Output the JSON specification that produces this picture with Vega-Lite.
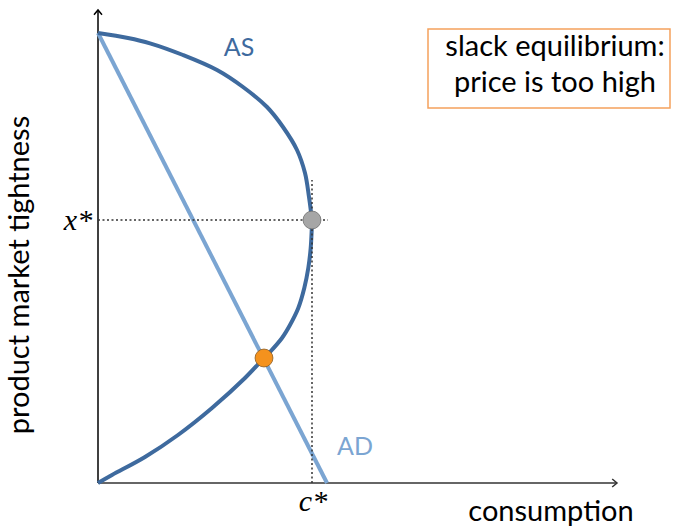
{
  "$schema": "https://vega.github.io/schema/vega-lite/v6.json",
  "width": 584,
  "height": 473,
  "autosize": {"type": "none"},
  "padding": {"left": 98, "top": 10, "right": 0, "bottom": 43},
  "background": "white",
  "config": {"view": {"stroke": null}},
  "datasets": {
    "as": [
      {"o": 1, "x": 0, "y": 450}, {"o": 2, "x": 30, "y": 445}, {"o": 3, "x": 52, "y": 439.7},
      {"o": 4, "x": 85, "y": 428}, {"o": 5, "x": 119, "y": 413}, {"o": 6, "x": 145, "y": 396},
      {"o": 7, "x": 169, "y": 376}, {"o": 8, "x": 185, "y": 356}, {"o": 9, "x": 199, "y": 333},
      {"o": 10, "x": 207, "y": 310}, {"o": 11, "x": 211, "y": 286}, {"o": 12, "x": 213, "y": 271},
      {"o": 13, "x": 214, "y": 262}, {"o": 14, "x": 213.7, "y": 253}, {"o": 15, "x": 212.7, "y": 235},
      {"o": 16, "x": 210.3, "y": 215}, {"o": 17, "x": 206.3, "y": 195}, {"o": 18, "x": 200.3, "y": 175},
      {"o": 19, "x": 192, "y": 158}, {"o": 20, "x": 184, "y": 145}, {"o": 21, "x": 172, "y": 131},
      {"o": 22, "x": 166, "y": 125}, {"o": 23, "x": 147, "y": 105}, {"o": 24, "x": 114, "y": 75},
      {"o": 25, "x": 80, "y": 48}, {"o": 26, "x": 47, "y": 26}, {"o": 27, "x": 14, "y": 8},
      {"o": 28, "x": 0, "y": 0}
    ],
    "ad": [{"o": 1, "x": 0, "y": 450}, {"o": 2, "x": 229, "y": 0}],
    "pts": [
      {"name": "slack", "x": 166, "y": 125},
      {"name": "walrasian", "x": 214, "y": 263}
    ]
  },
  "layer": [
    {
      "data": {"values": [{"x": 0, "y": 0, "y2": 473}]},
      "mark": {"type": "rule", "color": "#000000", "strokeWidth": 1.5},
      "encoding": {
        "x": {"field": "x", "type": "quantitative", "scale": {"domain": [0, 584], "nice": false, "zero": false}, "axis": null},
        "y": {"field": "y", "type": "quantitative", "scale": {"domain": [0, 473], "nice": false, "zero": false}, "axis": null},
        "y2": {"field": "y2"}
      }
    },
    {
      "data": {"values": [{"x": 0, "x2": 519, "y": 0}]},
      "mark": {"type": "rule", "color": "#333333", "strokeWidth": 1.5},
      "encoding": {
        "x": {"field": "x", "type": "quantitative"},
        "x2": {"field": "x2"},
        "y": {"field": "y", "type": "quantitative"}
      }
    },
    {
      "data": {"values": [{"x": 0, "y": 473}]},
      "mark": {"type": "point", "shape": "M-1,1.2L0,0L1,1.2", "filled": false, "stroke": "#000000", "strokeWidth": 1.5, "size": 64, "opacity": 1},
      "encoding": {"x": {"field": "x", "type": "quantitative"}, "y": {"field": "y", "type": "quantitative"}}
    },
    {
      "data": {"values": [{"x": 519, "y": 0}]},
      "mark": {"type": "point", "shape": "M-1.2,-1L0,0L-1.2,1", "filled": false, "stroke": "#333333", "strokeWidth": 1.5, "size": 64, "opacity": 1},
      "encoding": {"x": {"field": "x", "type": "quantitative"}, "y": {"field": "y", "type": "quantitative"}}
    },
    {
      "data": {"name": "ad"},
      "mark": {"type": "line", "color": "#7ba5d2", "strokeWidth": 4},
      "encoding": {
        "x": {"field": "x", "type": "quantitative"},
        "y": {"field": "y", "type": "quantitative"},
        "order": {"field": "o"}
      }
    },
    {
      "data": {"name": "as"},
      "mark": {"type": "line", "color": "#3e6a9e", "strokeWidth": 4, "interpolate": "catmull-rom"},
      "encoding": {
        "x": {"field": "x", "type": "quantitative"},
        "y": {"field": "y", "type": "quantitative"},
        "order": {"field": "o"}
      }
    },
    {
      "data": {"values": [{"x": 0, "x2": 230, "y": 263}]},
      "mark": {"type": "rule", "color": "#333333", "strokeWidth": 1.5, "strokeDash": [2, 2.5]},
      "encoding": {
        "x": {"field": "x", "type": "quantitative"},
        "x2": {"field": "x2"},
        "y": {"field": "y", "type": "quantitative"}
      }
    },
    {
      "data": {"values": [{"x": 214, "y": 0, "y2": 303}]},
      "mark": {"type": "rule", "color": "#333333", "strokeWidth": 1.5, "strokeDash": [2, 2.5]},
      "encoding": {
        "x": {"field": "x", "type": "quantitative"},
        "y": {"field": "y", "type": "quantitative"},
        "y2": {"field": "y2"}
      }
    },
    {
      "data": {"name": "pts"},
      "mark": {"type": "point", "shape": "circle", "filled": true, "size": 320, "opacity": 1, "strokeWidth": 0.8},
      "encoding": {
        "x": {"field": "x", "type": "quantitative"},
        "y": {"field": "y", "type": "quantitative"},
        "fill": {"field": "name", "type": "nominal", "scale": {"domain": ["slack", "walrasian"], "range": ["#f4921e", "#a6a6a6"]}, "legend": null},
        "stroke": {"field": "name", "type": "nominal", "scale": {"domain": ["slack", "walrasian"], "range": ["#8c5a20", "#6e6e6e"]}, "legend": null}
      }
    },
    {
      "data": {"values": [{"x": 330, "x2": 572, "y": 375, "y2": 454}]},
      "mark": {"type": "rect", "fill": "white", "stroke": "#f5a15c", "strokeWidth": 1.5},
      "encoding": {
        "x": {"field": "x", "type": "quantitative"},
        "x2": {"field": "x2"},
        "y": {"field": "y", "type": "quantitative"},
        "y2": {"field": "y2"}
      }
    },
    {
      "data": {"values": [
        {"t": "slack equilibrium:", "x": 457, "y": 436},
        {"t": "price is too high", "x": 457, "y": 400},
        {"t": "consumption", "x": 453, "y": -29}
      ]},
      "mark": {"type": "text", "font": "Lato", "fontSize": 29, "color": "#000000", "align": "center", "baseline": "middle", "clip": false},
      "encoding": {
        "x": {"field": "x", "type": "quantitative"},
        "y": {"field": "y", "type": "quantitative"},
        "text": {"field": "t"}
      }
    },
    {
      "data": {"values": [{"t": "product market tightness", "x": -78, "y": 208}]},
      "mark": {"type": "text", "font": "Lato", "fontSize": 29, "color": "#000000", "align": "center", "baseline": "middle", "angle": 270},
      "encoding": {
        "x": {"field": "x", "type": "quantitative"},
        "y": {"field": "y", "type": "quantitative"},
        "text": {"field": "t"}
      }
    },
    {
      "data": {"values": [{"t": "AS", "x": 141, "y": 435, "c": "AS"}, {"t": "AD", "x": 257, "y": 36, "c": "AD"}]},
      "mark": {"type": "text", "font": "Lato", "fontSize": 25, "align": "center", "baseline": "middle"},
      "encoding": {
        "x": {"field": "x", "type": "quantitative"},
        "y": {"field": "y", "type": "quantitative"},
        "text": {"field": "t"},
        "color": {"field": "c", "type": "nominal", "scale": {"domain": ["AS", "AD"], "range": ["#3e6a9e", "#7ba5d2"]}, "legend": null}
      }
    },
    {
      "data": {"values": [{"t": "x*", "x": -20, "y": 262}, {"t": "c*", "x": 215, "y": -19}]},
      "mark": {"type": "text", "font": "Liberation Serif", "fontStyle": "italic", "fontSize": 30, "color": "#000000", "align": "center", "baseline": "middle"},
      "encoding": {
        "x": {"field": "x", "type": "quantitative"},
        "y": {"field": "y", "type": "quantitative"},
        "text": {"field": "t"}
      }
    }
  ]
}
